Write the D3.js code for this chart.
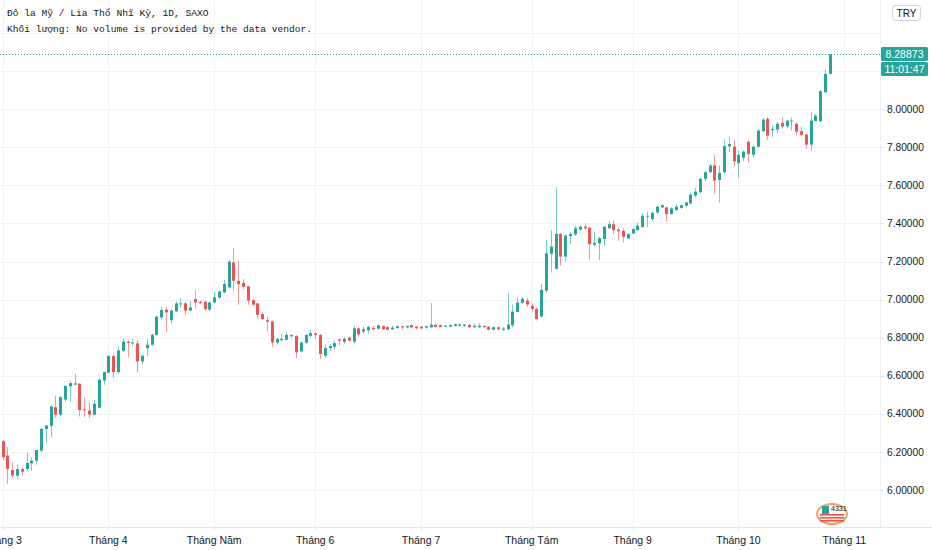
<!DOCTYPE html>
<html>
<head>
<meta charset="utf-8">
<script src="https://cdn.jsdelivr.net/npm/d3@7"></script>
<style>
  html, body { margin: 0; padding: 0; background: #ffffff; }
  svg { display: block; }
</style>
</head>
<body>
<svg id="chart" width="932" height="550"></svg>
<script>
// ---------------- DATA ----------------
const titleLine1 = "Đô la Mỹ / Lia Thổ Nhĩ Kỳ, 1D, SAXO";
const titleLine2 = "Khối lượng: No volume is provided by the data vendor.";
const currency = "TRY";
const lastPriceLabel = "8.28873";
const countdownLabel = "11:01:47";

const monthTickIndex = [0, 22, 44, 65, 87, 110, 131, 153, 175];
const monthLabels = ["Tháng 3", "Tháng 4", "Tháng Năm", "Tháng 6", "Tháng 7", "Tháng Tám", "Tháng 9", "Tháng 10", "Tháng 11"];
const priceTicks = [6.0, 6.2, 6.4, 6.6, 6.8, 7.0, 7.2, 7.4, 7.6, 7.8, 8.0, 8.2, 8.4];

const opens = [
6.256,6.181,6.105,6.075,6.110,6.110,6.140,6.154,6.207,6.320,6.337,6.435,6.395,6.475,6.544,6.553,6.558,6.424,6.418,6.395,
6.432,6.575,6.616,6.703,6.619,6.731,6.779,6.770,6.770,6.675,6.745,6.763,6.814,6.906,6.947,6.892,6.938,6.976,6.980,6.942,
7.003,6.989,6.989,6.947,6.985,7.010,7.038,7.064,7.195,7.099,7.088,7.069,6.997,6.980,6.924,6.892,6.885,6.775,6.787,6.789,
6.807,6.808,6.728,6.773,6.810,6.822,6.814,6.705,6.745,6.752,6.791,6.778,6.800,6.779,6.849,6.832,6.838,6.851,6.847,6.860,
6.856,6.844,6.851,6.860,6.854,6.866,6.858,6.858,6.853,6.854,6.868,6.866,6.858,6.858,6.861,6.863,6.862,6.867,6.855,6.855,
6.862,6.858,6.842,6.855,6.841,6.844,6.865,6.935,6.983,6.995,6.968,6.951,6.911,7.047,7.240,7.161,7.345,7.226,7.334,7.342,
7.367,7.383,7.377,7.288,7.295,7.318,7.375,7.396,7.367,7.361,7.321,7.347,7.365,7.382,7.435,7.423,7.458,7.484,7.484,7.449,
7.470,7.481,7.493,7.505,7.546,7.564,7.634,7.669,7.704,7.628,7.669,7.805,7.803,7.716,7.744,7.829,7.761,7.803,7.884,7.949,
7.890,7.893,7.928,7.910,7.935,7.923,7.884,7.866,7.814,7.938,7.937,8.089,8.185];
const highs = [
6.262,6.225,6.146,6.133,6.119,6.195,6.172,6.210,6.325,6.340,6.444,6.496,6.491,6.547,6.572,6.610,6.562,6.484,6.461,6.474,
6.589,6.623,6.705,6.716,6.750,6.793,6.787,6.793,6.789,6.714,6.793,6.822,6.915,6.963,6.959,6.950,6.990,7.008,6.985,6.994,
7.050,6.994,6.994,6.990,7.038,7.047,7.103,7.208,7.270,7.203,7.107,7.072,7.002,6.983,6.936,6.910,6.889,6.801,6.818,6.831,
6.819,6.814,6.775,6.819,6.842,6.826,6.819,6.766,6.766,6.784,6.794,6.801,6.805,6.863,6.854,6.858,6.863,6.861,6.868,6.863,
6.860,6.863,6.863,6.861,6.865,6.868,6.860,6.860,6.863,6.982,6.872,6.870,6.867,6.870,6.874,6.874,6.872,6.870,6.872,6.876,
6.863,6.860,6.858,6.858,6.855,7.033,6.974,7.012,7.012,7.009,6.977,6.960,7.082,7.313,7.366,7.590,7.349,7.342,7.354,7.387,
7.388,7.400,7.383,7.358,7.330,7.383,7.411,7.418,7.379,7.375,7.349,7.379,7.405,7.453,7.461,7.461,7.493,7.502,7.488,7.484,
7.502,7.498,7.516,7.563,7.586,7.639,7.674,7.712,7.761,7.704,7.842,7.856,7.838,7.782,7.782,7.835,7.809,7.896,7.954,7.958,
7.914,7.933,7.958,7.945,7.958,7.931,7.909,7.870,7.982,7.975,8.101,8.208,8.290];
const lows = [
6.155,6.032,6.063,6.058,6.072,6.100,6.100,6.133,6.200,6.250,6.277,6.379,6.386,6.465,6.465,6.550,6.386,6.382,6.379,6.391,
6.432,6.553,6.614,6.589,6.610,6.723,6.696,6.756,6.617,6.661,6.705,6.758,6.810,6.892,6.828,6.875,6.933,6.959,6.920,6.940,
6.950,6.975,6.938,6.941,6.980,7.005,7.033,7.060,7.044,6.973,7.055,6.973,6.967,6.898,6.892,6.833,6.752,6.763,6.780,6.784,
6.801,6.693,6.723,6.768,6.801,6.792,6.688,6.693,6.733,6.737,6.758,6.768,6.779,6.770,6.805,6.819,6.821,6.840,6.842,6.840,
6.838,6.840,6.847,6.842,6.849,6.849,6.844,6.845,6.846,6.853,6.853,6.853,6.854,6.854,6.858,6.860,6.858,6.851,6.851,6.851,
6.851,6.839,6.837,6.839,6.837,6.841,6.855,6.932,6.977,6.960,6.939,6.890,6.904,7.039,7.142,7.161,7.179,7.201,7.292,7.336,
7.361,7.365,7.211,7.279,7.207,7.282,7.370,7.344,7.309,7.300,7.318,7.344,7.361,7.375,7.382,7.414,7.449,7.481,7.411,7.446,
7.467,7.475,7.488,7.502,7.537,7.558,7.621,7.663,7.555,7.511,7.663,7.774,7.698,7.639,7.726,7.721,7.744,7.796,7.879,7.839,
7.853,7.874,7.902,7.902,7.888,7.861,7.858,7.791,7.782,7.937,7.931,8.085,8.183];
const closes = [
6.172,6.111,6.075,6.110,6.096,6.142,6.154,6.210,6.321,6.339,6.439,6.396,6.488,6.547,6.561,6.560,6.420,6.418,6.396,6.453,
6.579,6.619,6.705,6.619,6.733,6.779,6.772,6.775,6.675,6.705,6.763,6.815,6.910,6.945,6.933,6.942,6.980,6.980,6.942,6.959,
6.985,6.982,6.950,6.985,7.012,7.043,7.082,7.200,7.099,7.081,7.067,6.994,6.973,6.920,6.898,6.884,6.775,6.793,6.794,6.814,
6.814,6.723,6.775,6.814,6.824,6.814,6.714,6.745,6.756,6.771,6.784,6.794,6.784,6.849,6.818,6.844,6.856,6.844,6.865,6.844,
6.842,6.853,6.860,6.854,6.861,6.854,6.849,6.849,6.860,6.868,6.856,6.856,6.863,6.866,6.870,6.870,6.869,6.855,6.862,6.863,
6.855,6.842,6.855,6.844,6.848,6.869,6.937,6.984,7.004,6.974,6.951,6.898,7.051,7.243,7.278,7.345,7.226,7.336,7.345,7.375,
7.383,7.374,7.291,7.298,7.323,7.383,7.396,7.365,7.358,7.330,7.344,7.370,7.388,7.440,7.440,7.456,7.488,7.496,7.449,7.479,
7.488,7.496,7.510,7.551,7.567,7.634,7.669,7.704,7.625,7.665,7.807,7.817,7.726,7.760,7.777,7.765,7.803,7.888,7.945,7.861,
7.896,7.923,7.909,7.940,7.940,7.882,7.865,7.814,7.940,7.966,8.094,8.185,8.28873];

// ---------------- CHART ----------------
const W = 932, H = 550;
const plotRight = 880, plotBottom = 527;
const UP = "#26a69a", DOWN = "#ef5350", GRID = "#f0f3fa", TEXT = "#131722";
const svg = d3.select("#chart");

const candles = opens.map((o, i) => ({ i, o, h: highs[i], l: lows[i], c: closes[i] }));

const x = d3.scaleLinear().domain([0, 175]).range([2.5, 844.3]);
const y = d3.scaleLinear().domain([6.0, 8.4]).range([490, 33]);

svg.append("rect").attr("width", W).attr("height", H).attr("fill", "#ffffff");

// grid
const grid = svg.append("g").attr("shape-rendering", "crispEdges");
grid.selectAll(".hg").data(priceTicks).join("line")
  .attr("x1", 0).attr("x2", plotRight)
  .attr("y1", d => Math.round(y(d)) + 0.5).attr("y2", d => Math.round(y(d)) + 0.5)
  .attr("stroke", GRID).attr("stroke-width", 1);
grid.selectAll(".vg").data(monthTickIndex).join("line")
  .attr("x1", d => Math.round(x(d)) + 0.5).attr("x2", d => Math.round(x(d)) + 0.5)
  .attr("y1", 0).attr("y2", plotBottom)
  .attr("stroke", GRID).attr("stroke-width", 1);

// last price dotted line
svg.append("line")
  .attr("x1", 0).attr("x2", plotRight)
  .attr("y1", Math.round(y(closes[closes.length - 1])) + 0.5)
  .attr("y2", Math.round(y(closes[closes.length - 1])) + 0.5)
  .attr("stroke", UP).attr("stroke-width", 1).attr("stroke-dasharray", "1,2");

// candles
const cg = svg.append("g");
cg.selectAll(".wick").data(candles).join("line")
  .attr("x1", d => Math.round(x(d.i)) + 0.5).attr("x2", d => Math.round(x(d.i)) + 0.5)
  .attr("y1", d => y(d.h)).attr("y2", d => y(d.l))
  .attr("stroke", d => d.c >= d.o ? UP : DOWN)
  .attr("stroke-opacity", 0.6).attr("stroke-width", 1);
cg.selectAll(".body").data(candles).join("rect")
  .attr("x", d => Math.round(x(d.i)) - 1)
  .attr("width", 3)
  .attr("y", d => y(Math.max(d.o, d.c)))
  .attr("height", d => Math.max(1, Math.abs(y(d.o) - y(d.c))))
  .attr("fill", d => d.c >= d.o ? UP : DOWN);

// axes borders
svg.append("line").attr("x1", 0).attr("x2", W).attr("y1", plotBottom + 0.5).attr("y2", plotBottom + 0.5)
  .attr("stroke", "#e0e3eb").attr("shape-rendering", "crispEdges");
svg.append("line").attr("x1", plotRight + 0.5).attr("x2", plotRight + 0.5).attr("y1", 0).attr("y2", plotBottom)
  .attr("stroke", "#eef0f5").attr("shape-rendering", "crispEdges");

// bottom axis labels
const fontSans = "'Liberation Sans', Arial, sans-serif";
svg.selectAll(".mt").data(monthTickIndex).join("line")
  .attr("x1", d => Math.round(x(d)) + 0.5).attr("x2", d => Math.round(x(d)) + 0.5)
  .attr("y1", plotBottom).attr("y2", plotBottom + 3)
  .attr("stroke", "#e0e3eb").attr("shape-rendering", "crispEdges");
svg.selectAll(".ml").data(monthTickIndex).join("text")
  .attr("x", d => x(d)).attr("y", 544)
  .attr("text-anchor", "middle")
  .attr("font-family", fontSans).attr("font-size", 10.5).attr("fill", TEXT)
  .text((d, k) => monthLabels[k]);

// right price labels (skip the one hidden by the price boxes)
const lastY = y(closes[closes.length - 1]);
const visibleTicks = priceTicks.filter(p => Math.abs(y(p) - lastY) > 24);
svg.selectAll(".pt").data(visibleTicks).join("line")
  .attr("x1", plotRight).attr("x2", plotRight + 4)
  .attr("y1", d => Math.round(y(d)) + 0.5).attr("y2", d => Math.round(y(d)) + 0.5)
  .attr("stroke", "#e0e3eb").attr("shape-rendering", "crispEdges");
svg.selectAll(".pl").data(visibleTicks).join("text")
  .attr("x", 887).attr("y", d => y(d) + 3.6)
  .attr("font-family", fontSans).attr("font-size", 10.2).attr("fill", TEXT)
  .text(d => d3.format(".5f")(d));

// price boxes
const bx = 881, bw = 47;
svg.append("rect").attr("x", bx).attr("y", Math.round(lastY) - 7).attr("width", bw).attr("height", 14)
  .attr("rx", 1.5).attr("fill", UP);
svg.append("text").attr("x", bx + bw / 2).attr("y", Math.round(lastY) + 4)
  .attr("text-anchor", "middle").attr("font-family", fontSans).attr("font-size", 10.5)
  .attr("fill", "#ffffff").text(lastPriceLabel);
svg.append("rect").attr("x", bx).attr("y", Math.round(lastY) + 8).attr("width", bw).attr("height", 14)
  .attr("rx", 1.5).attr("fill", UP);
svg.append("text").attr("x", bx + bw / 2).attr("y", Math.round(lastY) + 19)
  .attr("text-anchor", "middle").attr("font-family", fontSans).attr("font-size", 10.5)
  .attr("fill", "#ffffff").text(countdownLabel);

// currency button
svg.append("rect").attr("x", 892.5).attr("y", 5.5).attr("width", 28).attr("height", 15).attr("rx", 3)
  .attr("fill", "#ffffff").attr("stroke", "#d1d4dc");
svg.append("text").attr("x", 906.5).attr("y", 16.5).attr("text-anchor", "middle")
  .attr("font-family", fontSans).attr("font-size", 10).attr("fill", TEXT).text(currency);

// title
const fontMono = "'Liberation Mono', 'DejaVu Sans Mono', monospace";
svg.append("text").attr("x", 7).attr("y", 16).attr("font-family", fontMono).attr("font-size", 9.6)
  .attr("fill", TEXT).text(titleLine1);
svg.append("text").attr("x", 7).attr("y", 31.5).attr("font-family", fontMono).attr("font-size", 9.6)
  .attr("fill", TEXT).text(titleLine2);

// small watermark logo
const lg = svg.append("g").attr("transform", "translate(832,514)");
lg.append("ellipse").attr("rx", 15).attr("ry", 10).attr("fill", "#fff6ee")
  .attr("stroke", "#f5a26a").attr("stroke-width", 2);
[0, 3, 6].forEach(dy => lg.append("rect").attr("x", -12).attr("y", dy).attr("width", 24).attr("height", 1.6).attr("fill", "#ef5350"));
lg.append("rect").attr("x", -10).attr("y", -8).attr("width", 7).attr("height", 8).attr("fill", "#26a69a");
lg.append("text").attr("x", -1).attr("y", -3).attr("font-family", fontSans).attr("font-size", 7)
  .attr("fill", TEXT).text("4331");
</script>
</body>
</html>
